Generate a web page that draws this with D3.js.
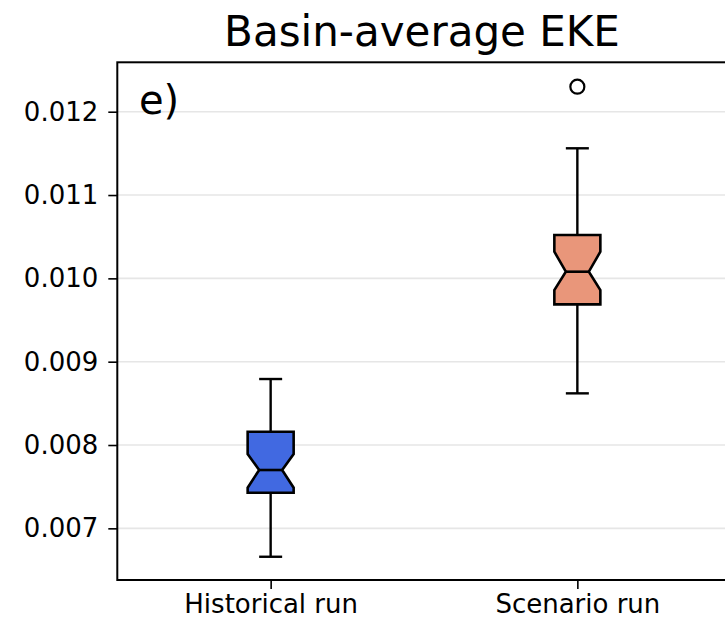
<!DOCTYPE html>
<html>
<head>
<meta charset="utf-8">
<script src="https://cdn.jsdelivr.net/npm/d3@7"></script>
<style>
  html, body { margin: 0; padding: 0; background: #fff; }
  svg { display: block; font-family: "DejaVu Sans", sans-serif; }
</style>
</head>
<body>
<svg id="chart" width="725" height="624"></svg>
<script>
// ---- data ----
const categories = ["Historical run", "Scenario run"];
const positions = [1, 2];
const whiskerLow = [0.006659, 0.008620];
const q1 = [0.007427, 0.009688];
const notchLow = [0.007487, 0.009860];
const median = [0.007700, 0.010080];
const notchHigh = [0.007892, 0.010320];
const q3 = [0.008159, 0.010520];
const whiskerHigh = [0.008792, 0.011561];
const outliers = [[], [0.012300]];
const fillColors = ["#4169E1", "#E9967A"];
const yTicks = [0.007, 0.008, 0.009, 0.010, 0.011, 0.012];
const titleText = "Basin-average EKE";
const panelLabel = "e)";

(function () {
// ---- layout ----
const svg = d3.select("#chart");
const mLeft = 117.3, mRight = 730.7, mTop = 62.3, mBottom = 580;
const x = d3.scaleLinear().domain([0.5, 2.5]).range([mLeft, mRight]);
const y = d3.scaleLinear().domain([0.006380, 0.012593]).range([mBottom, mTop]);

const boxW = 0.15;        // in data units along x
const capW = boxW * 0.5;
const notchW = boxW * 0.5;
const lw = 2.4;

// grid
svg.append("g").selectAll("line").data(yTicks).join("line")
  .attr("x1", mLeft).attr("x2", mRight)
  .attr("y1", d => y(d)).attr("y2", d => y(d))
  .attr("stroke", "#e6e6e6").attr("stroke-width", 1.6);

// boxes
const boxes = svg.append("g");
categories.forEach((c, i) => {
  const p = positions[i];
  const g = boxes.append("g");
  g.append("line").attr("x1", x(p)).attr("x2", x(p))
    .attr("y1", y(q1[i])).attr("y2", y(whiskerLow[i]))
    .attr("stroke", "#000").attr("stroke-width", lw);
  g.append("line").attr("x1", x(p)).attr("x2", x(p))
    .attr("y1", y(q3[i])).attr("y2", y(whiskerHigh[i]))
    .attr("stroke", "#000").attr("stroke-width", lw);
  [whiskerLow[i], whiskerHigh[i]].forEach(v => {
    g.append("line").attr("x1", x(p - capW / 2)).attr("x2", x(p + capW / 2))
      .attr("y1", y(v)).attr("y2", y(v))
      .attr("stroke", "#000").attr("stroke-width", lw);
  });
  const L = p - boxW / 2, R = p + boxW / 2, nl = p - notchW / 2, nr = p + notchW / 2;
  const pts = [
    [L, q1[i]], [R, q1[i]], [R, notchLow[i]], [nr, median[i]], [R, notchHigh[i]],
    [R, q3[i]], [L, q3[i]], [L, notchHigh[i]], [nl, median[i]], [L, notchLow[i]]
  ];
  g.append("path")
    .attr("d", d3.line().x(d => x(d[0])).y(d => y(d[1]))(pts) + "Z")
    .attr("fill", fillColors[i]).attr("stroke", "#000").attr("stroke-width", 2.6)
    .attr("stroke-linejoin", "miter");
  g.append("line").attr("x1", x(nl)).attr("x2", x(nr))
    .attr("y1", y(median[i])).attr("y2", y(median[i]))
    .attr("stroke", "#000").attr("stroke-width", 2.6);
  g.selectAll("circle").data(outliers[i]).join("circle")
    .attr("cx", x(p)).attr("cy", d => y(d)).attr("r", 7)
    .attr("fill", "none").attr("stroke", "#000").attr("stroke-width", 2.2);
});

// axes
const yAxis = d3.axisLeft(y).tickValues(yTicks).tickFormat(d3.format(".3f"))
  .tickSize(9).tickPadding(10);
const gy = svg.append("g").attr("transform", `translate(${mLeft},0)`).call(yAxis);
gy.select(".domain").remove();
gy.selectAll(".tick line").attr("stroke-width", 1.6);
gy.selectAll(".tick text").attr("font-size", 26).attr("font-family", "DejaVu Sans").attr("fill", "#000");

const xAxis = d3.axisBottom(x).tickValues(positions).tickFormat((d, i) => categories[i])
  .tickSize(9).tickPadding(6);
const gx = svg.append("g").attr("transform", `translate(0,${mBottom})`).call(xAxis);
gx.select(".domain").remove();
gx.selectAll(".tick line").attr("stroke-width", 1.6);
gx.selectAll(".tick text").attr("font-size", 26).attr("font-family", "DejaVu Sans").attr("fill", "#000");

// spines
svg.append("rect").attr("x", mLeft).attr("y", mTop)
  .attr("width", mRight - mLeft).attr("height", mBottom - mTop)
  .attr("fill", "none").attr("stroke", "#000").attr("stroke-width", 2);

// title & panel label
svg.append("text").attr("x", 422).attr("y", 46).attr("text-anchor", "middle")
  .attr("font-size", 42).text(titleText);
svg.append("text").attr("x", 139).attr("y", 114)
  .attr("font-size", 40).text(panelLabel);
})();
</script>
</body>
</html>
